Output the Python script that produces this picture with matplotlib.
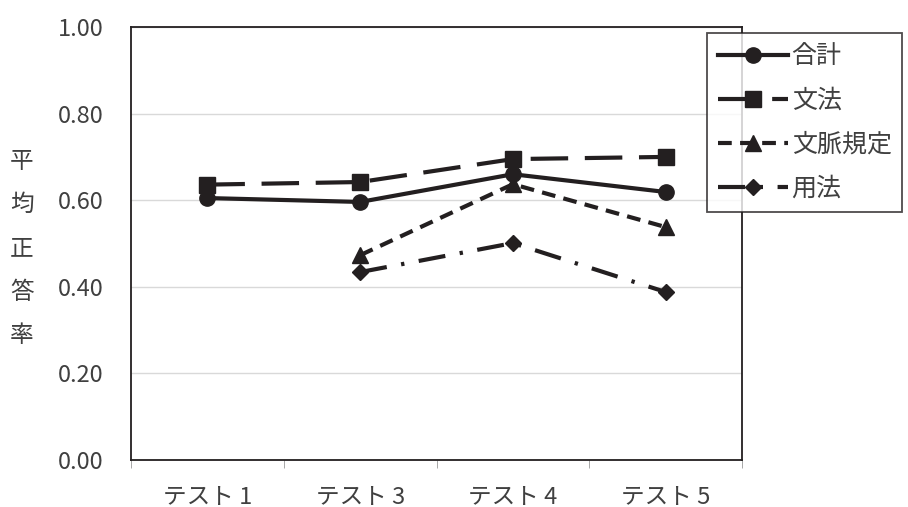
import matplotlib
matplotlib.use("Agg")
import matplotlib.pyplot as plt
import numpy as np

plt.rcParams["font.family"] = ["Noto Sans CJK JP", "DejaVu Sans"]

# Data
categories = ["テスト 1", "テスト 3", "テスト 4", "テスト 5"]
total = [0.605, 0.596, 0.660, 0.619]
grammar = [0.636, 0.642, 0.695, 0.700]
context = [np.nan, 0.473, 0.637, 0.538]
usage = [np.nan, 0.434, 0.501, 0.388]
y_ticks = [0.0, 0.2, 0.4, 0.6, 0.8, 1.0]

INK = "#231f20"
TXT = "#404040"
FS = 17

fig = plt.figure(figsize=(9.08, 5.07), dpi=100)
ax = fig.add_axes([0.1443, 0.0927, 0.6729, 0.854])

x = np.arange(len(categories))
lw = 3.0
ax.plot(x, total, color=INK, lw=lw, marker="o", ms=11, label="合計", zorder=5)
ax.plot(x, grammar, color=INK, lw=lw, marker="s", ms=11,
        dashes=(9, 4), label="文法", zorder=4)
ax.plot(x, context, color=INK, lw=lw, marker="^", ms=11,
        dashes=(3.3, 2), label="文脈規定", zorder=4)
ax.plot(x, usage, color=INK, lw=lw, marker="D", ms=8,
        dashes=(6.5, 3.5, 0.8, 3.5), label="用法", zorder=4)

ax.set_xlim(-0.5, len(categories) - 0.5)
ax.set_ylim(0, 1.0)
ax.set_yticks(y_ticks)
ax.set_yticklabels([f"{v:.2f}" for v in y_ticks], fontsize=FS, color=TXT)
ax.set_xticks(x)
ax.set_xticklabels(categories, fontsize=FS, color=TXT)
ax.tick_params(axis="x", length=0, pad=18)
ax.set_xticks(np.arange(-0.5, len(categories)), minor=True)
ax.tick_params(axis="x", which="minor", length=6, direction="out", color="#999999")
ax.tick_params(axis="y", length=0, pad=20)
ax.grid(axis="y", color="#d9d9d9", lw=1)
ax.set_axisbelow(True)
for s in ax.spines.values():
    s.set_color(INK)
    s.set_linewidth(1.3)

fig.text(0.024, 0.51, "平\n均\n正\n答\n率", fontsize=FS, ha="center", va="center",
         linespacing=2.15, color=TXT)

leg = fig.legend(loc="upper left", bbox_to_anchor=(0.779, 0.935), fontsize=18,
                 frameon=True, fancybox=False, edgecolor=INK,
                 handlelength=2.8, handletextpad=0.15, labelspacing=0.72,
                 borderpad=0.42, borderaxespad=0)
leg.get_frame().set_linewidth(1.3)
for t in leg.get_texts():
    t.set_color(TXT)

fig.savefig("out.png", dpi=100)
